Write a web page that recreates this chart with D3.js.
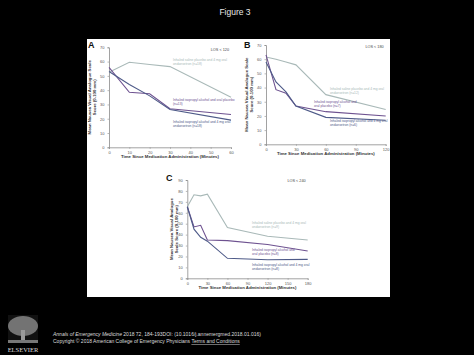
<!DOCTYPE html>
<html><head><meta charset="utf-8">
<script src="https://cdn.jsdelivr.net/npm/d3@7/dist/d3.min.js"></script>
<style>body{margin:0;background:#000;}svg{display:block;}</style>
</head><body>
<script>
// ---- data ----
const seriesNames = [
  "Inhaled saline placebo and 4 mg oral ondansetron",
  "Inhaled isopropyl alcohol and oral placebo",
  "Inhaled isopropyl alcohol and 4 mg oral ondansetron"
];
// Panel A (LOS < 120)
const aTimes = [0, 10, 20, 30, 60];
const aSaline = [52.5, 59.5, 58, 56.5, 35];
const aAlcPlacebo = [56, 38.5, 37.5, 27, 23];
const aAlcOnd = [53, 44, 36, 26.5, 19];
const aN = [18, 13, 18];
const aXTicks = [0, 10, 20, 30, 40, 50, 60];
const aYTicks = [0, 10, 20, 30, 40, 50, 60, 70];
// Panel B (LOS < 180)
const bTimes = [0, 10, 20, 30, 60, 120];
const bSaline = [61.5, 60, 58, 56, 35, 24.5];
const bAlcPlacebo = [63, 38.5, 36, 27, 23, 20];
const bAlcOnd = [58, 44, 37, 27, 19, 17];
const bN = [12, 7, 6];
const bXTicks = [0, 30, 60, 90, 120];
const bYTicks = [0, 10, 20, 30, 40, 50, 60, 70];
// Panel C (LOS < 240)
const cTimes = [0, 10, 20, 30, 60, 120, 180];
const cSaline = [65.5, 76.5, 75.5, 77, 46.5, 38.5, 35];
const cAlcPlacebo = [65.5, 47, 48.5, 35, 34.5, 31, 25];
const cAlcOnd = [65.5, 45, 37.5, 34, 18.3, 17, 17.3];
const cN = [9, 8, 8];
const cXTicks = [0, 30, 60, 90, 120, 150, 180];
const cYTicks = [0, 10, 20, 30, 40, 50, 60, 70, 80, 90];

const colors = ["#a9b9b8", "#6e5290", "#4e5a88"];

const svg = d3.select("body").append("svg").attr("width", 474).attr("height", 355);
svg.append("rect").attr("width", 474).attr("height", 355).attr("fill", "#000");

svg.append("text").attr("x", 235).attr("y", 15).attr("text-anchor", "middle")
  .attr("font-family", "Liberation Sans, Arial, sans-serif").attr("font-size", 8.5)
  .attr("fill", "#e8e8e8").text("Figure 3");

// white figure panel
svg.append("rect").attr("x", 87).attr("y", 39).attr("width", 303).attr("height", 258).attr("fill", "#fff");

function drawChart(cfg) {
  const g = svg.append("g");
  const x = d3.scaleLinear().domain([0, cfg.xMax]).range([cfg.x0, cfg.x1]);
  const y = d3.scaleLinear().domain([0, cfg.yMax]).range([cfg.y0, cfg.y1]);
  const ff = "Liberation Sans, Arial, sans-serif";

  const xa = g.append("g").attr("transform", `translate(0,${cfg.y0})`)
    .call(d3.axisBottom(x).tickValues(cfg.xTicks).tickSize(1.5).tickPadding(2));
  const ya = g.append("g").attr("transform", `translate(${cfg.x0},0)`)
    .call(d3.axisLeft(y).tickValues(cfg.yTicks).tickSize(1.5).tickPadding(3));
  [xa, ya].forEach(a => {
    a.select(".domain").attr("stroke", "#8a8a8a").attr("stroke-width", 0.8);
    a.selectAll(".tick line").attr("stroke", "#8a8a8a").attr("stroke-width", 0.6);
    a.selectAll("text").attr("font-size", 4).attr("font-family", ff).attr("fill", "#555");
  });

  const line = d3.line().x((d, i) => x(cfg.times[i])).y(d => y(d));
  cfg.series.forEach((s, k) => {
    g.append("path").datum(s).attr("d", line).attr("fill", "none")
      .attr("stroke", colors[k]).attr("stroke-width", 1.1);
  });

  // panel letter
  g.append("text").attr("x", cfg.letterX).attr("y", cfg.letterY)
    .attr("font-family", ff).attr("font-weight", "bold").attr("font-size", 9)
    .attr("fill", "#111").text(cfg.letter);
  // LOS label
  g.append("text").attr("x", cfg.x1 - 2).attr("y", cfg.losY).attr("text-anchor", "end")
    .attr("font-family", ff).attr("font-size", 3.8).attr("fill", "#444").text(cfg.los);

  // series labels
  cfg.labels.forEach((lb, k) => {
    const t = g.append("text").attr("font-family", ff).attr("font-size", 3.3).attr("fill", colors[k]);
    lb.lines.forEach((ln, j) => {
      t.append("tspan").attr("x", lb.x).attr("y", lb.y + j * 4.3).text(ln);
    });
  });

  // x title
  g.append("text").attr("x", (cfg.x0 + cfg.x1) / 2).attr("y", cfg.y0 + 11)
    .attr("text-anchor", "middle").attr("font-family", ff).attr("font-weight", "bold")
    .attr("font-size", 4.3).attr("fill", "#333")
    .text("Time Since Medication Administration (Minutes)");
  // y title
  const yt = g.append("text").attr("transform", `translate(${cfg.yTitleX},${(cfg.y0 + cfg.y1) / 2}) rotate(-90)`)
    .attr("text-anchor", "middle").attr("font-family", ff).attr("font-weight", "bold")
    .attr("font-size", 4.3).attr("fill", "#333");
  cfg.yTitle.forEach((ln, j) => yt.append("tspan").attr("x", 0).attr("y", j * 5).text(ln));
}

function labelLines(names, ns, splits) {
  return names.map((nm, k) => {
    const full = nm + " (n=" + ns[k] + ")";
    const w = full.split(" ");
    return [w.slice(0, splits[k]).join(" "), w.slice(splits[k]).join(" ")];
  });
}

const aL = labelLines(seriesNames, aN, [7, 6, 7]);
drawChart({
  x0: 109, x1: 231, y0: 147.3, y1: 47.3, xMax: 60, yMax: 70,
  xTicks: aXTicks, yTicks: aYTicks, times: aTimes,
  series: [aSaline, aAlcPlacebo, aAlcOnd],
  letter: "A", letterX: 88, letterY: 48, los: "LOS < 120", losY: 51,
  labels: [{x: 173, y: 61, lines: aL[0]}, {x: 173, y: 101, lines: aL[1]}, {x: 173, y: 122.5, lines: aL[2]}],
  yTitleX: 91, yTitle: ["Mean Nausea Visual Analogue Scale", "Score (0-100 mm)"]
});

const bL = labelLines(seriesNames, bN, [7, 4, 7]);
drawChart({
  x0: 266, x1: 385.7, y0: 144.3, y1: 45, xMax: 120, yMax: 70,
  xTicks: bXTicks, yTicks: bYTicks, times: bTimes,
  series: [bSaline, bAlcPlacebo, bAlcOnd],
  letter: "B", letterX: 244, letterY: 48, los: "LOS < 180", losY: 48,
  labels: [{x: 330, y: 90, lines: bL[0]}, {x: 314, y: 103, lines: bL[1]}, {x: 330, y: 122, lines: bL[2]}],
  yTitleX: 248, yTitle: ["Mean Nausea Visual Analogue Scale", "Score (0-100 mm)"]
});

const cL = labelLines(seriesNames, cN, [7, 4, 7]);
drawChart({
  x0: 187.3, x1: 307.7, y0: 278.3, y1: 180, xMax: 180, yMax: 90,
  xTicks: cXTicks, yTicks: cYTicks, times: cTimes,
  series: [cSaline, cAlcPlacebo, cAlcOnd],
  letter: "C", letterX: 166, letterY: 181, los: "LOS < 240", losY: 182,
  labels: [{x: 252, y: 224, lines: cL[0]}, {x: 252, y: 251, lines: cL[1]}, {x: 252, y: 265.5, lines: cL[2]}],
  yTitleX: 173, yTitle: ["Mean Nausea Visual Analogue", "Scale Score (0-100 mm)"]
});

// Elsevier logo (approximate)
const logo = svg.append("g");
logo.append("rect").attr("x", 8).attr("y", 315).attr("width", 30).attr("height", 28).attr("fill", "#111");
logo.append("ellipse").attr("cx", 23).attr("cy", 326).attr("rx", 15).attr("ry", 10).attr("fill", "#8c8c8c").attr("opacity", 0.8);
logo.append("rect").attr("x", 21).attr("y", 330).attr("width", 4).attr("height", 12).attr("fill", "#9a9a9a");
logo.append("rect").attr("x", 8).attr("y", 340).attr("width", 30).attr("height", 3).attr("fill", "#777");
logo.append("text").attr("x", 23).attr("y", 352).attr("text-anchor", "middle")
  .attr("font-family", "Liberation Serif, Times New Roman, serif").attr("font-size", 6.5)
  .attr("fill", "#ddd").text("ELSEVIER");

const cite = svg.append("text").attr("x", 53).attr("y", 335.5)
  .attr("font-family", "Liberation Sans, Arial, sans-serif").attr("font-size", 5).attr("fill", "#ddd");
cite.append("tspan").attr("font-style", "italic").text("Annals of Emergency Medicine");
cite.append("tspan").text(" 2018 72, 184-193DOI: (10.1016/j.annemergmed.2018.01.016)");
const copy = svg.append("text").attr("x", 53).attr("y", 343)
  .attr("font-family", "Liberation Sans, Arial, sans-serif").attr("font-size", 5).attr("fill", "#ddd");
copy.append("tspan").text("Copyright © 2018 American College of Emergency Physicians ");
copy.append("tspan").attr("text-decoration", "underline").text("Terms and Conditions");
</script>
</body></html>
